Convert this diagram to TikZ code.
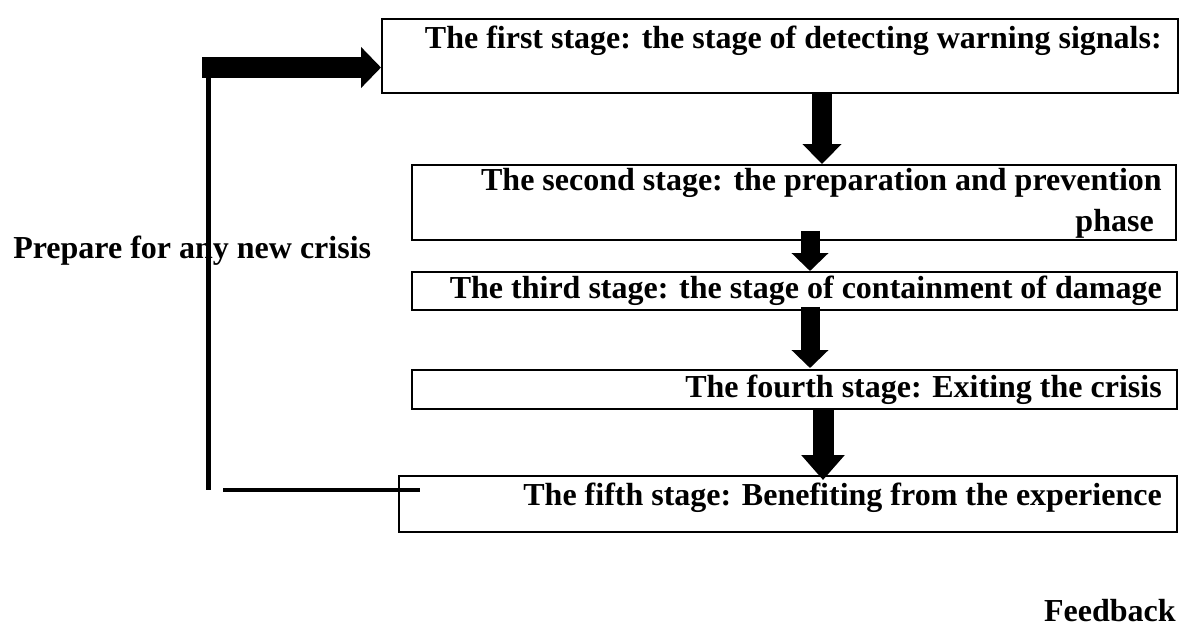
\documentclass[tikz,border=0pt]{standalone}
\usepackage{fontspec}
\setmainfont{Liberation Serif}
\usetikzlibrary{arrows.meta,calc}
\begin{document}
\begin{tikzpicture}[x=0.75pt,y=-0.75pt,
  stagebox/.style 2 args={draw, line width=1.4pt, rectangle, inner sep=0pt, anchor=north west,
     minimum width=#1*0.75pt, minimum height=#2*0.75pt},
  txt/.style={font=\bfseries\fontsize{24}{31}\selectfont, inner sep=0pt},
  blockarrow/.style n args={3}{line width=#1*0.75pt, draw, -{Triangle[width=#2*0.75pt, length=#3*0.75pt]}},
  bar/.style={line width=#1*0.75pt}
]
\useasboundingbox (0,0) rectangle (1179,629);

% stage boxes
\node[stagebox={796}{74}] (b1) at (381,18) {};
\node[stagebox={764}{75}] (b2) at (411,164) {};
\node[stagebox={765}{38}] (b3) at (411,271) {};
\node[stagebox={765}{39}] (b4) at (411,369) {};
\node[stagebox={778}{56}] (b5) at (398,475) {};

% texts
\node[txt, anchor=base east] (t1) at (1162,48) {The first stage: the stage of detecting warning signals:};
\node[txt, anchor=north east, align=right] (t2) at (1162,168) {The second stage: the preparation and prevention\\phase\phantom{ }};
\node[txt, anchor=base east] (t3) at (1162,298) {The third stage: the stage of containment of damage};
\node[txt, anchor=base east] (t4) at (1162,397) {The fourth stage: Exiting the crisis};
\node[txt, anchor=base east] (t5) at (1162,505) {The fifth stage: Benefiting from the experience};
\node[txt, anchor=base west] (prep) at (13,258) {Prepare for any new crisis};
\node[txt, anchor=base east] (fb) at (1176,621) {Feedback};

% arrow columns
\coordinate (ca) at (822,0);
\coordinate (cb) at (810,0);
\coordinate (cc) at (823,0);

\draw[blockarrow={20}{38}{20}] (ca |- b1.south) -- (ca |- b2.north);
\draw[blockarrow={19}{36}{18}] ($(cb |- b2.south)+(0,-10)$) -- (cb |- b3.north);
\draw[blockarrow={19}{36}{18}] ($(cb |- b3.south)+(0,-4)$) -- ($(cb |- b4.north)+(0,-1)$);
\draw[blockarrow={21}{42}{25}] (cc |- b4.south) -- ($(cc |- b5.north)+(0,5)$);

% feedback loop
\coordinate (fbstart) at (202,67.5);
\coordinate (fbtop) at (208,78);
\coordinate (fbbot) at (208,490);
\coordinate (hl) at (223,490);
\draw[blockarrow={21}{40}{20}] (fbstart) -- (b1.west |- fbstart);
\draw[bar=5] (fbtop) -- (fbbot);
\draw[bar=4] (hl) -- ($(b5.west |- hl)+(22,0)$);
\end{tikzpicture}
\end{document}
